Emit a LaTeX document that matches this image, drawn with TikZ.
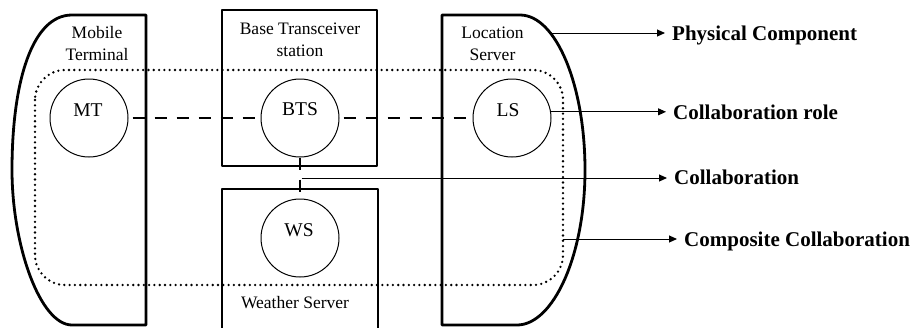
\documentclass[tikz,border=0pt]{standalone}
\usepackage{fontspec}
\setmainfont{Liberation Serif}
\usetikzlibrary{arrows.meta,calc}
\begin{document}
\begin{tikzpicture}[x=1pt,y=-1pt,
  comp/.style={line width=2.8pt, line join=round},
  role/.style={circle, draw, line width=1pt, minimum size=78pt, inner sep=0pt},
  collab/.style={line width=2.8pt, dash pattern=on 12pt off 10pt},
  dotbox/.style={line width=2.6pt, dash pattern=on 0pt off 5.3pt, line cap=round},
  pointer/.style={line width=1pt, -{Triangle[length=8pt,width=7pt]}},
  lbl/.style={font=\fontsize{17.5}{22.5}\selectfont, align=center, inner sep=0pt},
  rolelbl/.style={font=\fontsize{19.5}{22}\selectfont, inner sep=0pt},
  legend/.style={font=\bfseries\fontsize{21}{24}\selectfont, anchor=base west, inner ysep=0pt, inner xsep=7pt}]
\useasboundingbox (0,0) rectangle (917,327);

% physical components
\draw[comp] (146,15) -- (72,15) .. controls (32,15) and (12,82) .. (12,170)
  .. controls (12,245) and (40,325) .. (72,325) -- (146,325) -- cycle;
\draw[comp] (222,10) rectangle (377,166);
\draw[comp] (222,330) -- (222,189) -- (378,189) -- (378,330);
\draw[comp] (442,15) -- (520,15) .. controls (556,15) and (585,85) .. (585,170)
  .. controls (585,256) and (553,325) .. (517,325) -- (442,325) -- cycle;

% component names
\node[lbl] (mtname) at (97,43.5) {Mobile\\Terminal};
\node[lbl] (btsname) at (300,40) {Base Transceiver\\station};
\node[lbl] (lsname) at (492.5,44) {Location\\Server};
\node[lbl] (wsname) at (295,303) {Weather Server};

% composite collaboration
\draw[dotbox, rounded corners=30pt] (35,70) rectangle (563,285);

% collaboration roles
\node[role] (mt) at (89,118) {};
\node[role] (bts) at (300,118) {};
\node[role] (ls) at (512,118) {};
\node[role] (ws) at (300,238) {};
\node[rolelbl] (mtl) at (88,110) {MT};
\node[rolelbl] (btsl) at (300,109) {BTS};
\node[rolelbl] (lsl) at (508,110.5) {LS};
\node[rolelbl] (wsl) at (299,230) {WS};

% collaborations
\draw[collab, dash phase=18pt] (mt) -- (bts);
\draw[collab, dash phase=18pt] (bts) -- (ls);
\draw[collab] (bts) -- (ws);

% legend
\coordinate (pcsrc) at (550,33);
\coordinate (cj) at ($(bts.south)!0.5!(ws.north)$);
\coordinate (ccsrc) at (563,239);
\node[legend] (pc) at (665,40) {Physical Component};
\node[legend] (cr) at (666,119) {Collaboration role};
\node[legend] (cb) at (667,184) {Collaboration};
\node[legend] (cc) at (677,246) {Composite Collaboration};
\draw[pointer] (pcsrc) -- (pcsrc -| pc.west);
\draw[pointer] (ls.9) -- (ls.9 -| cr.west);
\draw[pointer] ([xshift=1.5pt]cj) -- (cj -| cb.west);
\draw[pointer] (ccsrc) -- (ccsrc -| cc.west);
\end{tikzpicture}
\end{document}
